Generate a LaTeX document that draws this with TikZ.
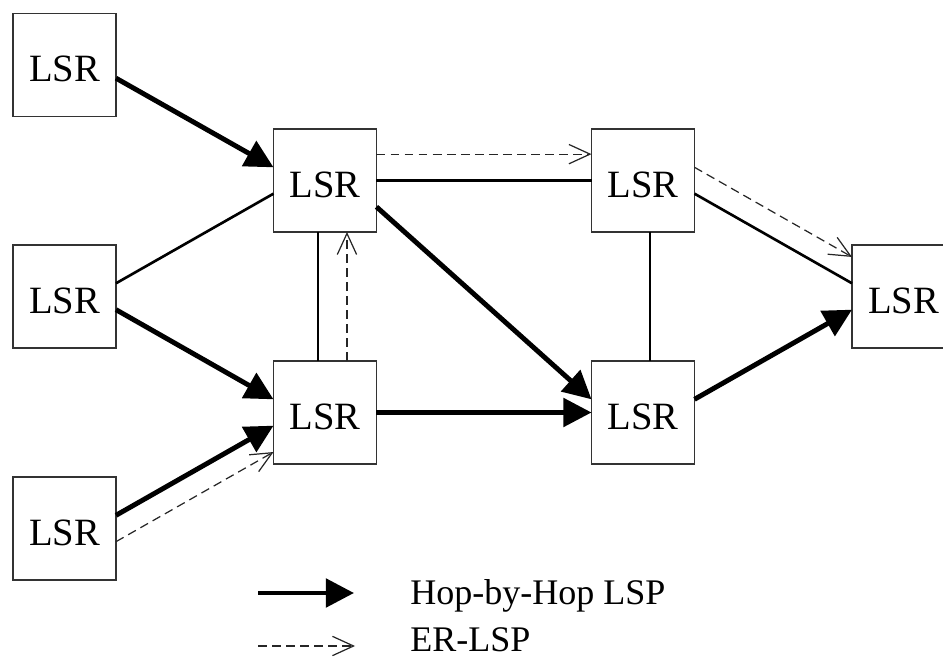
\documentclass[tikz,border=0pt]{standalone}
\usepackage{fontspec}
\setmainfont{Liberation Serif}
\usepackage{tikz}
\usetikzlibrary{arrows.meta}
\newcommand*\boxsize{2.06cm}
\newcommand*\lane   {7.5pt}
\tikzset{
    lsrbox/.style   = {draw=black!80, line width=1pt,
                      minimum size=\boxsize, inner sep=0pt, outer sep=0pt,
                      text height=19pt, text depth=0pt,
                      font=\fontsize{22}{26}\selectfont},
    link/.style     = {line width=1.5pt},
    hoparrow/.style = {line width=2.8pt, -{Triangle[length=16pt,width=16pt]}},
    erarrow/.style  = {black!85, line width=0.7pt, dash pattern=on 5pt off 3pt,
                      -{Straight Barb[length=12pt,width=11pt]}},
    legendtext/.style = {font=\fontsize{20.5}{24}\selectfont, inner sep=0pt,
                      text depth=0pt},
  }
\begin{document}
\begin{tikzpicture}[x=0.02cm, y=-0.02cm]
      \useasboundingbox (0,0) rectangle (943,661);

      % Routers: three ingress, four core, one egress
      \node[lsrbox] (in1)   at (64.5,65)    {LSR};
      \node[lsrbox] (in2)   at (64.5,296.5) {LSR};
      \node[lsrbox] (in3)   at (64.5,528.5) {LSR};
      \node[lsrbox] (core1) at (325,180.5)  {LSR};
      \node[lsrbox] (core2) at (325,412.5)  {LSR};
      \node[lsrbox] (core3) at (643,180.5)  {LSR};
      \node[lsrbox] (core4) at (643,412.5)  {LSR};
      \node[lsrbox] (out)   at (903.5,296.5) {LSR};

      % Plain links
      \draw[link] ([yshift=\lane]in2.east) -- ([yshift=-\lane]core1.west);
      \draw[link] ([xshift=-4pt]core2.north) -- ([xshift=-4pt]core1.south);
      \draw[link] (core1.east) -- (core3.west);
      \draw[link] ([xshift=4pt]core3.south) -- ([xshift=4pt]core4.north);
      \draw[link] ([yshift=-\lane]core3.east) -- ([yshift=\lane]out.west);

      % Hop-by-hop paths
      \draw[hoparrow] ([yshift=-\lane]in1.east) -- ([yshift=\lane]core1.west);
      \draw[hoparrow] ([yshift=-\lane]in2.east) -- ([yshift=\lane]core2.west);
      \draw[hoparrow] ([yshift=\lane]in3.east) -- ([yshift=-\lane]core2.west);
      \draw[hoparrow] ([yshift=-2*\lane]core1.east) -- ([yshift=\lane]core4.west);
      \draw[hoparrow] (core2.east) -- (core4.west);
      \draw[hoparrow] ([yshift=\lane]core4.east) -- ([yshift=-\lane]out.west);

      % Explicitly routed path
      \draw[erarrow] ([yshift=-\lane]in3.east) -- ([yshift=-3*\lane]core2.west);
      \draw[erarrow] ([xshift=12.5pt]core2.north) -- ([xshift=12.5pt]core1.south);
      \draw[erarrow] ([yshift=2*\lane]core1.east) -- ([yshift=2*\lane]core3.west);
      \draw[erarrow] ([yshift=\lane]core3.east) -- ([yshift=3*\lane]out.west);

      % Legend
      \coordinate (hopstart) at (258,593);
      \coordinate (hopend)   at (354,593);
      \coordinate (erstart)  at (258,646);
      \coordinate (erend)    at (355,646);
      \draw[hoparrow] (hopstart) -- (hopend);
      \draw[erarrow]  (erstart) -- (erend);
      \node[legendtext, anchor=base west] (hoplabel) at (410,605) {Hop-by-Hop LSP};
      \node[legendtext, anchor=base west] (erlabel)  at (410,651) {ER-LSP};
    \end{tikzpicture}
\end{document}
